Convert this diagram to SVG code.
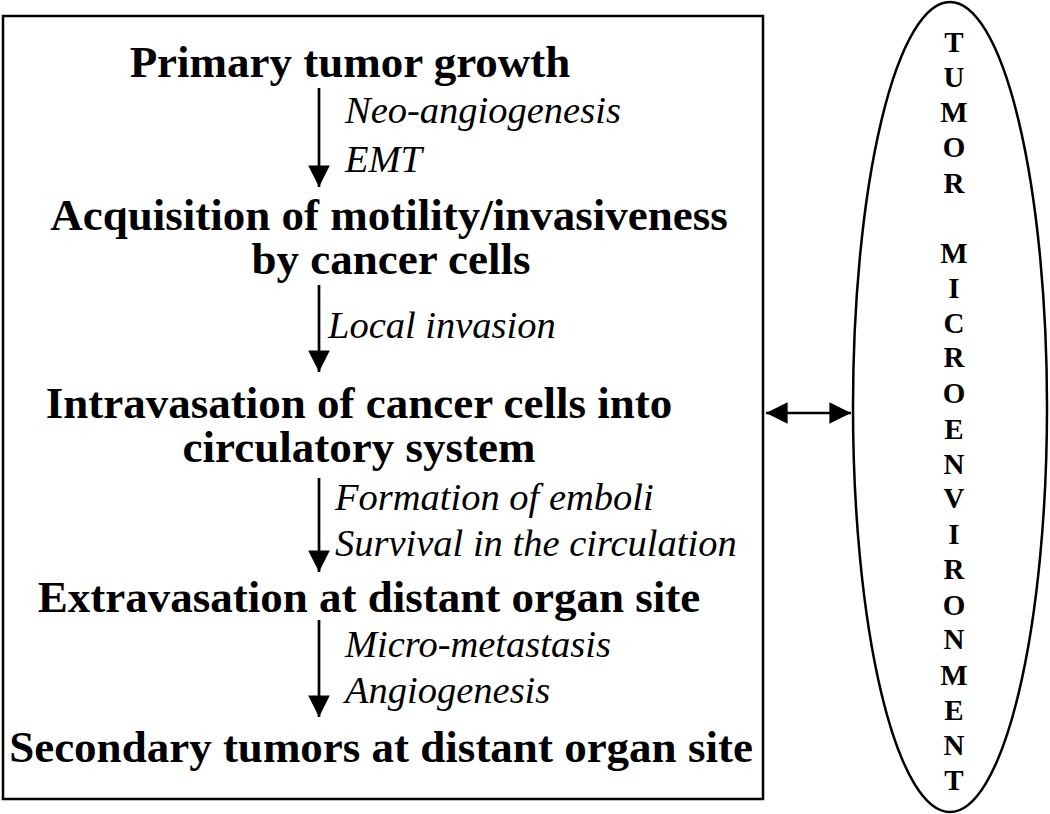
<svg xmlns="http://www.w3.org/2000/svg" width="1050" height="814" viewBox="0 0 1050 814">
<defs>
<style>
.step{font-family:"Liberation Serif","Times New Roman",serif;font-weight:bold;font-size:45px;fill:#000;text-anchor:middle}
.lab{font-family:"Liberation Serif","Times New Roman",serif;font-style:italic;font-size:38.5px;fill:#000}
.let{font-family:"Liberation Serif","Times New Roman",serif;font-weight:bold;font-size:29px;fill:#000;text-anchor:middle}
.ln{stroke:#000;stroke-width:2.7;fill:none}
</style>
<marker id="ah" viewBox="0 0 10 10" refX="10" refY="5" markerWidth="8" markerHeight="8" markerUnits="strokeWidth" orient="auto-start-reverse">
<path d="M0,0 L10,5 L0,10 z" fill="#000"/>
</marker>
</defs>
<rect x="3" y="16" width="760" height="783" fill="none" stroke="#000" stroke-width="2.5"/>
<g id="n1"><text class="step" x="350" y="77">Primary tumor growth</text></g>
<g id="n2"><text class="step" x="389" y="230">Acquisition of motility/invasiveness</text><text class="step" x="391" y="274">by cancer cells</text></g>
<g id="n3"><text class="step" x="359" y="418">Intravasation of cancer cells into</text><text class="step" x="359" y="462">circulatory system</text></g>
<g id="n4"><text class="step" x="369" y="612">Extravasation at distant organ site</text></g>
<g id="n5"><text class="step" x="381" y="762">Secondary tumors at distant organ site</text></g>
<g id="env">
<ellipse cx="950" cy="407" rx="97" ry="405" fill="none" stroke="#000" stroke-width="2.5"/>
<text class="let" x="954" y="52">T</text><text class="let" x="954" y="87">U</text><text class="let" x="954" y="122">M</text><text class="let" x="954" y="157">O</text><text class="let" x="954" y="193">R</text>
<text class="let" x="954" y="263">M</text><text class="let" x="954" y="298">I</text><text class="let" x="954" y="333">C</text><text class="let" x="954" y="367">R</text><text class="let" x="954" y="403">O</text>
<text class="let" x="954" y="439">E</text><text class="let" x="954" y="474">N</text><text class="let" x="954" y="508">V</text><text class="let" x="954" y="544">I</text><text class="let" x="954" y="579">R</text><text class="let" x="954" y="615">O</text><text class="let" x="954" y="649">N</text><text class="let" x="954" y="685">M</text><text class="let" x="954" y="720">E</text><text class="let" x="954" y="755">N</text><text class="let" x="954" y="790">T</text>
</g>
<g id="connectors">
<line class="ln" x1="319" y1="88" x2="319" y2="187" marker-end="url(#ah)"/>
<line class="ln" x1="319" y1="285" x2="319" y2="372" marker-end="url(#ah)"/>
<line class="ln" x1="319" y1="478" x2="319" y2="572" marker-end="url(#ah)"/>
<line class="ln" x1="319" y1="620" x2="319" y2="717" marker-end="url(#ah)"/>
<line class="ln" x1="766" y1="413" x2="851" y2="413" marker-start="url(#ah)" marker-end="url(#ah)"/>
</g>
<g id="labels">
<text class="lab" x="345" y="123">Neo-angiogenesis</text>
<text class="lab" x="345" y="172">EMT</text>
<text class="lab" x="328" y="338">Local invasion</text>
<text class="lab" x="335" y="510">Formation of emboli</text>
<text class="lab" x="335" y="556">Survival in the circulation</text>
<text class="lab" x="345" y="657">Micro-metastasis</text>
<text class="lab" x="345" y="703">Angiogenesis</text>
</g>
</svg>
